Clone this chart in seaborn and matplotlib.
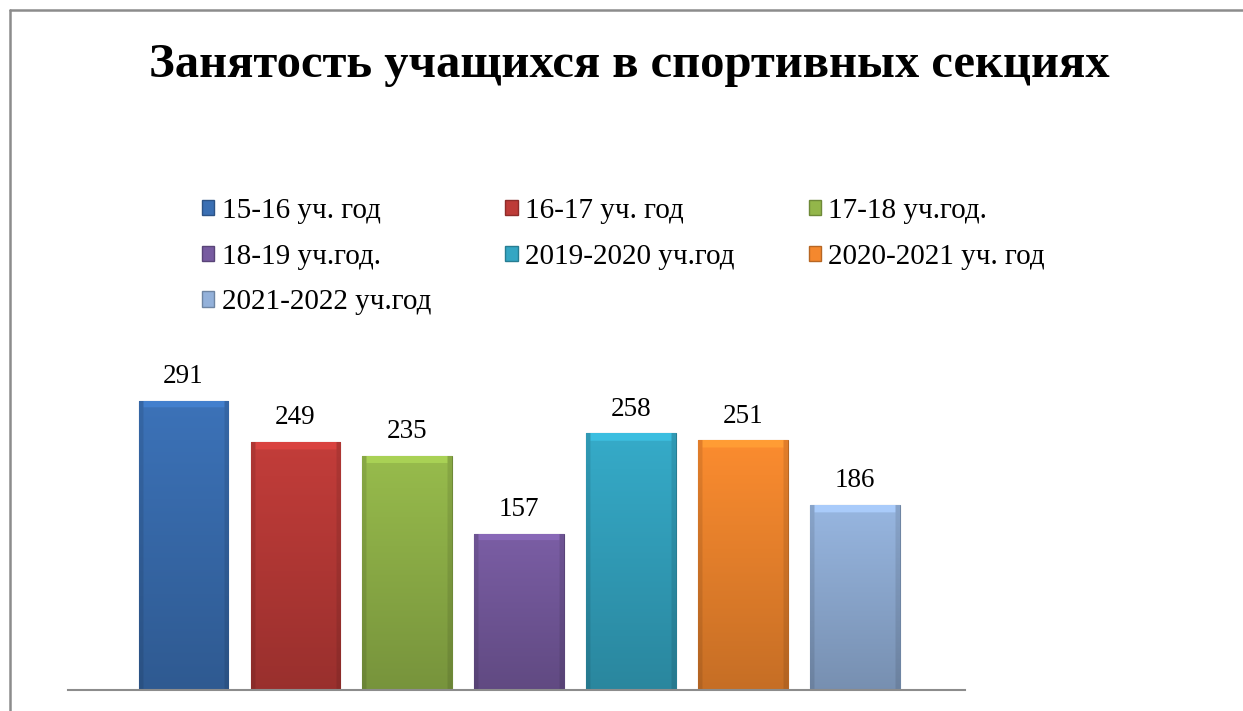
import numpy as np
import pandas as pd
import matplotlib
matplotlib.use('Agg')
import matplotlib.pyplot as plt
import matplotlib.colors as mcolors
from matplotlib.lines import Line2D
from matplotlib.patches import Patch
import seaborn as sns

sns.set_style('white')
plt.rcParams['font.family'] = ['Liberation Serif', 'DejaVu Serif']

years = ['15-16 уч. год', '16-17 уч. год', '17-18 уч.год.', '18-19 уч.год.',
         '2019-2020 уч.год', '2020-2021 уч. год', '2021-2022 уч.год']
values = [291, 249, 235, 157, 258, 251, 186]
colors = ['#3a6fb3', '#bd3b38', '#93b64a', '#775ba0', '#34a6c3', '#f4882e', '#93b1da']
title = 'Занятость учащихся в спортивных секциях'

df = pd.DataFrame({'year': years, 'value': values})

fig = plt.figure(figsize=(12.43, 7.11), dpi=100)
ax = fig.add_axes([0.0547, 0.0295, 0.7216, 0.4895])
sns.barplot(data=df, x='year', y='value', hue='year', palette=colors,
            legend=False, width=0.8, ax=ax, saturation=1)
ax.set_xlim(-1.03, 6.98)
ax.set_ylim(0, 350)

# bevel-like gradient on every bar, taken from the drawn patches
for p, c in zip(ax.patches, colors):
    x0, w, h = p.get_x(), p.get_width(), p.get_height()
    base = np.array(mcolors.to_rgb(c))
    ny, nx = 200, 60
    yy = np.linspace(0, 1, ny)[:, None]          # 0 top -> 1 bottom
    xx = np.linspace(0, 1, nx)[None, :]
    shade = 1.03 - 0.22 * yy
    edge = np.minimum(xx, 1 - xx)
    shade = shade * np.where(edge < 0.05, 0.9, 1.0)
    top = (yy * h) < 7
    shade = np.where(top & (edge >= 0.05), 1.15, shade)
    img = np.clip(base[None, None, :] * shade[..., None], 0, 1)
    im = ax.imshow(img, extent=(x0, x0 + w, 0, h), aspect='auto',
                   origin='upper', zorder=p.get_zorder() + 0.1)
    im.set_clip_path(p)
    p.set_edgecolor(mcolors.to_rgb(c) * np.array(0.75))
    p.set_linewidth(0.8)

for p, v in zip(ax.patches, values):
    ax.text(p.get_x() + p.get_width() / 2, v + 12, str(v), ha='center',
            va='bottom', fontsize=19.5, color='black')

ax.set_xlabel('')
ax.set_ylabel('')
ax.set_xticks([])
ax.set_yticks([])
for s in ['top', 'right', 'left']:
    ax.spines[s].set_visible(False)
ax.spines['bottom'].set_color('#8c8c8c')
ax.spines['bottom'].set_linewidth(1.5)
ax.set_autoscale_on(False)

fig.text(0.506, 0.908, title, ha='center', va='center', fontsize=35,
         fontweight='bold', color='black')

# legend, row-major order in three columns
handles = [Patch(facecolor=c, edgecolor=mcolors.to_rgb(c) * np.array(0.75))
           for c in colors]
order = [0, 3, 6, 1, 4, 2, 5]
fig.legend([handles[i] for i in order], [years[i] for i in order],
           ncol=3, loc='upper left', bbox_to_anchor=(0.1415, 0.758),
           frameon=False, fontsize=21, handlelength=0.42, handleheight=0.42,
           handletextpad=0.25, columnspacing=2.55, labelspacing=0.67,
           labelcolor='black')

fig.add_artist(Line2D([0.008, 1], [0.986, 0.986], color='#8c8c8c', lw=1.8))
fig.add_artist(Line2D([0.008, 0.008], [0, 0.986], color='#8c8c8c', lw=1.8))

fig.savefig('out.png', dpi=100)
